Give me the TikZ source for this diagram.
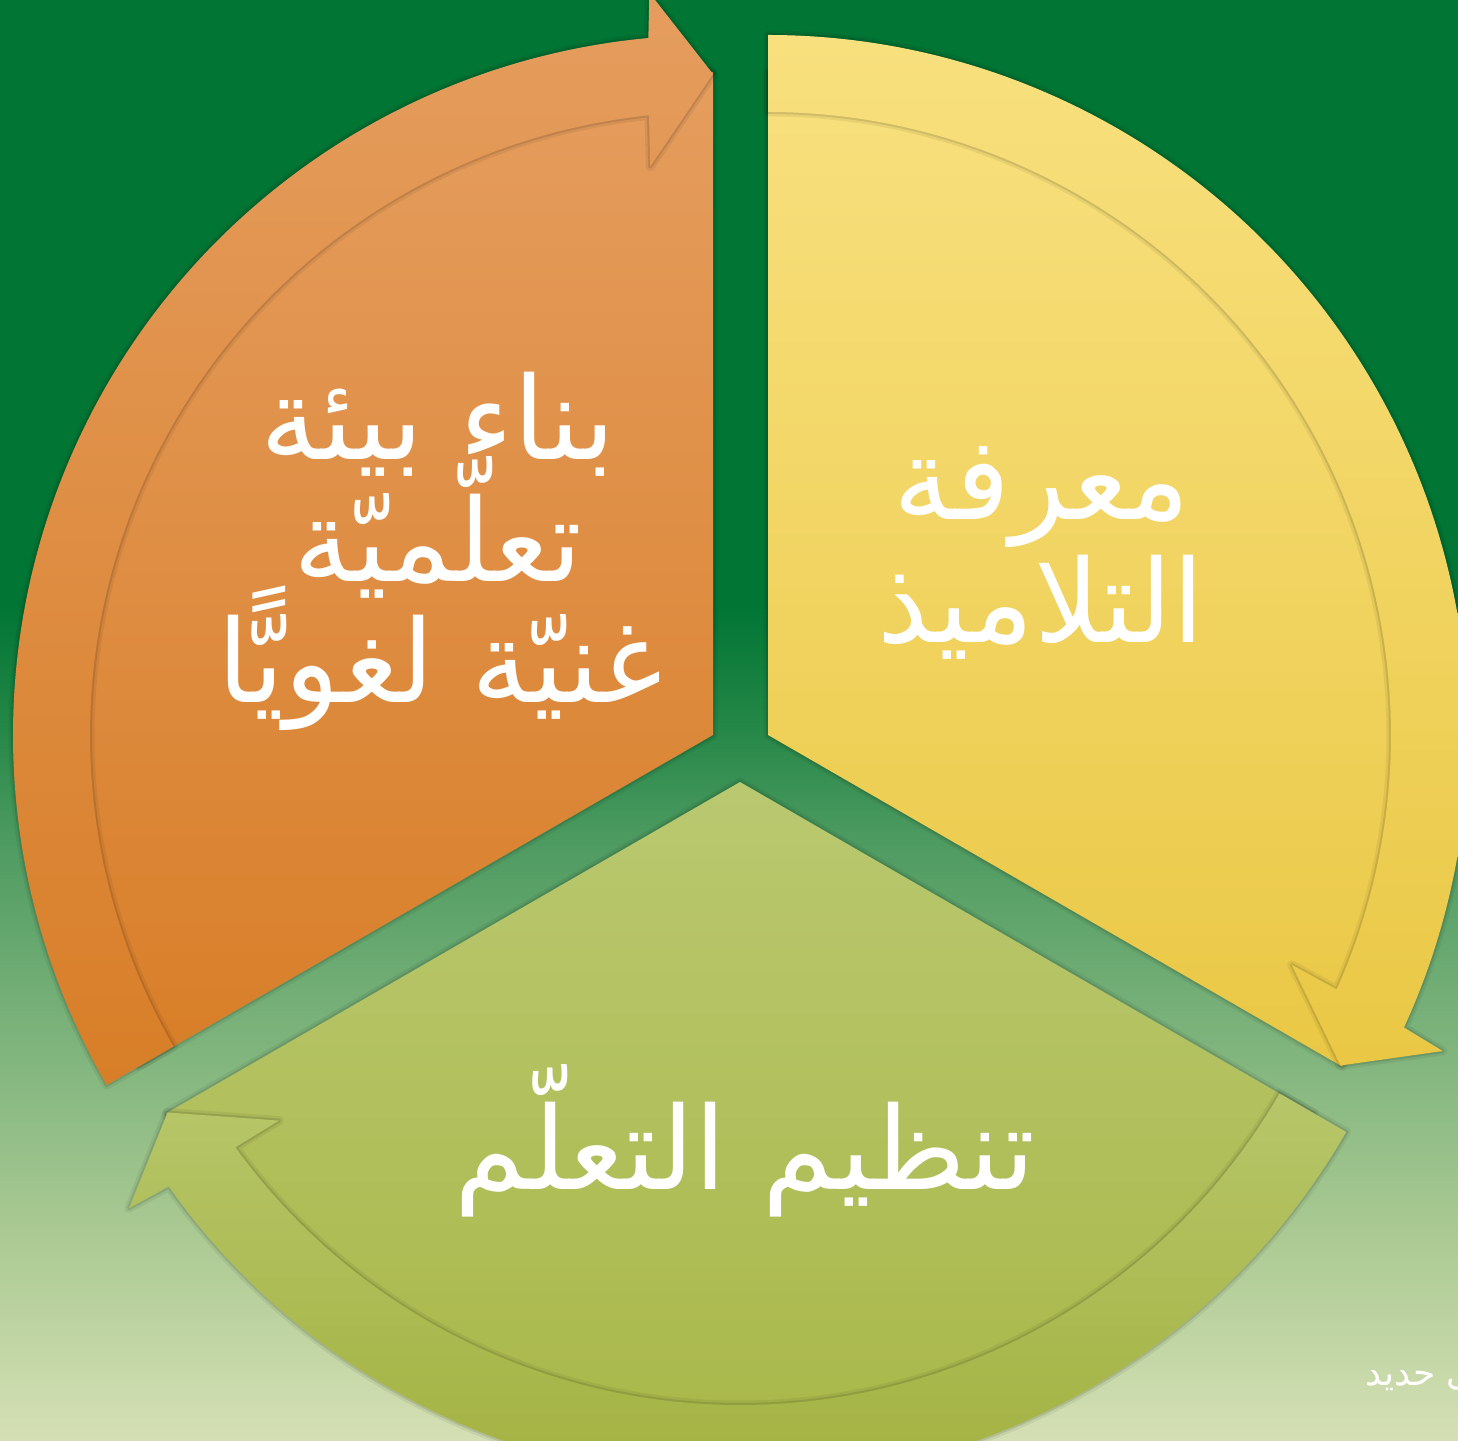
\documentclass[tikz,border=0pt]{standalone}
\usepackage{fontspec}
\newfontfamily\arabicfont[Script=Arabic]{DejaVu Sans}
\TeXXeTstate=1
\definecolor{bgA}{RGB}{213,224,180}
\definecolor{bgB}{RGB}{172,202,148}
\definecolor{bgC}{RGB}{118,176,120}
\definecolor{bgD}{RGB}{76,154,96}
\definecolor{bgE}{RGB}{34,134,70}
\definecolor{bgtop}{RGB}{0,117,52}
\definecolor{orT}{RGB}{229,157,94}
\definecolor{orM}{RGB}{229,143,64}
\definecolor{orB}{RGB}{216,126,40}
\definecolor{yeT}{RGB}{248,224,126}
\definecolor{yeM}{RGB}{250,220,98}
\definecolor{yeB}{RGB}{234,200,69}
\definecolor{grT}{RGB}{186,200,112}
\definecolor{grB}{RGB}{167,182,68}
\definecolor{gbT}{RGB}{183,198,105}
\definecolor{gbB}{RGB}{163,178,64}
\pgfdeclareverticalshading{bgshade}{100bp}{color(0bp)=(bgA); color(25bp)=(bgA); color(32bp)=(bgB); color(40bp)=(bgC); color(46bp)=(bgD); color(50bp)=(bgE); color(54bp)=(bgtop); color(100bp)=(bgtop)}
\begin{document}
\begin{tikzpicture}[x=1pt,y=1pt,
  softshade/.style={preaction={draw=black,draw opacity=0.06,line width=9pt,line join=round},
                    preaction={draw=black,draw opacity=0.10,line width=4pt,line join=round}},
  orseg/.style={softshade,top color=orT,middle color=orM,bottom color=orB},
  yeseg/.style={softshade,top color=yeT,middle color=yeM,bottom color=yeB},
  grseg/.style={softshade,top color=grT,bottom color=grB},
  grband/.style={softshade,top color=gbT,bottom color=gbB},
  lbl/.style={text=white,inner sep=0pt,anchor=base,font=\arabicfont\fontsize{115}{120}\selectfont},
  sig/.style={text=white,inner sep=0pt,anchor=base west,font=\arabicfont\fontsize{36}{40}\selectfont}]
\useasboundingbox (0,0) rectangle (1458,1440);
\begin{scope}
\clip (0,0) rectangle (1458,1440);
\fill[shading=bgshade] (0,0) rectangle (1458,1440);
% orange segment
\begin{scope}[shift={(713,705)}]
  \path[orseg] (0,0) -- (210:663) arc[start angle=210,end angle=90,radius=663] -- cycle;
  \path[orseg] (210:700) arc[start angle=210,end angle=95.3,radius=700] -- (94.9:745) -- (90:661)
     -- (96.3:572) -- (95.9:623) arc[start angle=95.9,end angle=210,radius=623] -- cycle;
\end{scope}
% yellow segment
\begin{scope}[shift={(768,705)}]
  \path[yeseg] (0,0) -- (90:663) arc[start angle=90,end angle=-30,radius=663] -- cycle;
  \path[yeseg] (90:700) arc[start angle=90,end angle=-24.7,radius=700] -- (-25.1:745) -- (-30:661)
     -- (-23.7:572) -- (-24.1:623) arc[start angle=-24.1,end angle=90,radius=623] -- cycle;
\end{scope}
% green segment
\begin{scope}[shift={(740,658)}]
  \path[grseg] (0,0) -- (330:663) arc[start angle=330,end angle=210,radius=663] -- cycle;
  \path[grband] (330:700) arc[start angle=330,end angle=215.3,radius=700] -- (214.9:745) -- (210:661)
     -- (216.3:572) -- (215.9:623) arc[start angle=215.9,end angle=330,radius=623] -- cycle;
\end{scope}
% labels
\node[lbl] (o1) at (438,980) {\beginR بناء بيئة\endR};
\node[lbl] (o2) at (438,858) {\beginR تعلّميّة\endR};
\node[lbl] (o3) at (440,737) {\beginR غنيّة لغويًّا\endR};
\node[lbl] (y1) at (1042,920) {\beginR معرفة\endR};
\node[lbl] (y2) at (1041,797) {\beginR التلاميذ\endR};
\node[lbl] (g1) at (745,250) {\beginR تنظيم التعلّم\endR};
\node[sig] (s1) at (1365,55) {\beginR ى حديد\endR};
\end{scope}
\end{tikzpicture}
\end{document}
